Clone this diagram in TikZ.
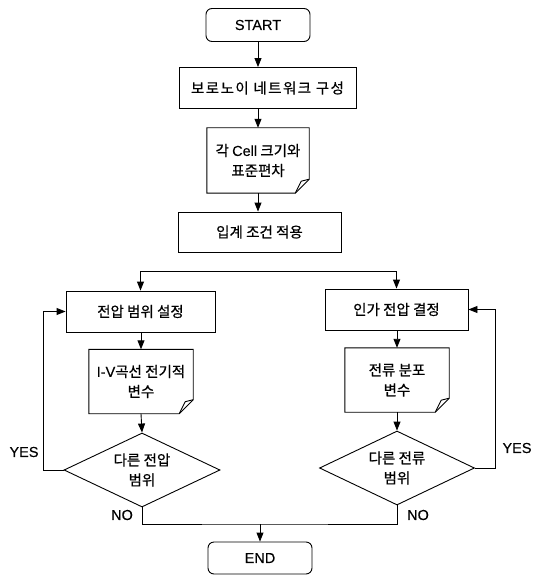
\documentclass[tikz,border=0pt]{standalone}
\usepackage{fontspec}
\setmainfont{Noto Sans CJK KR}[FakeBold=0.6]
\newfontfamily\latin{Liberation Sans}[FakeBold=0.3]
\usetikzlibrary{arrows.meta,shapes.geometric}

% folded-corner outline drawn round a named node
\newcommand{\docoutline}[1]{%
  \draw[line width=0.9pt] (#1.north west) -- (#1.north east)
    -- ([yshift=14pt]#1.south east) -- ([xshift=-14pt]#1.south east)
    -- (#1.south west) -- cycle;
  \draw[line width=0.9pt] ([yshift=14pt]#1.south east)
    -- ([xshift=-8pt,yshift=12pt]#1.south east) -- ([xshift=-14pt]#1.south east);
}

\tikzset{
  txt/.style={font=\fontsize{14.5}{20}\selectfont, align=center, inner sep=0pt},
  lat/.style={txt, font=\fontsize{14.5}{20}\selectfont\latin},
  base/.style={txt, draw, line width=0.9pt},
  term/.style={base, font=\fontsize{14.5}{20}\selectfont\latin, rounded corners=6pt, minimum width=104pt, minimum height=33pt},
  proc/.style={base, minimum height=41pt},
  docbox/.style={txt, minimum width=104pt, minimum height=64pt},
  decide/.style={base, diamond, aspect=2.1, minimum width=156pt, minimum height=74pt},
  arr/.style={line width=0.9pt, -{Triangle[length=9pt,width=7pt]}},
  line/.style={line width=0.9pt}
}

\begin{document}
\begin{tikzpicture}[x=1pt,y=-1pt]
\useasboundingbox (0,0) rectangle (532,577);

\node[term] (start) at (258,25) {START};
\node[proc, minimum width=177pt] (voronoi) at (267.5,88) {\addfontfeatures{LetterSpace=10}보로노이 네트워크 구성};
\node[docbox, minimum width=102pt, minimum height=65pt] (cellsize) at (258,160.5) {각 {\latin Cell} 크기와\\표준편차};
\docoutline{cellsize}
\node[proc, minimum width=163pt, minimum height=40pt] (boundary) at (259.5,232) {입계 조건 적용};
\coordinate (split) at ([yshift=-19pt]boundary.south);

\node[proc, minimum width=149pt] (vrange) at (140.5,311.5) {전압 범위 설정};
\node[proc, minimum width=143pt] (vappl) at (396.5,309.5) {인가 전압 결정};
\node[docbox] (ivcurve) at (141,381.5) {{\latin I-V}곡선 전기적\\변수};
\docoutline{ivcurve}
\node[docbox] (current) at (397,380) {전류 분포\\변수};
\docoutline{current}
\node[decide] (vcheck) at (142,470) {다른 전압\\범위};
\node[decide, minimum width=155pt] (ccheck) at (397,468) {다른 전류\\범위};
\coordinate (join) at (260,524);
\node[term, minimum height=32pt] (end) at (260,558) {END};

\node[lat] (yesl) at (24,452) {YES};
\node[lat] (yesr) at (517,448) {YES};
\node[lat] (nol) at (122,515) {NO};
\node[lat] (nor) at (418,515) {NO};

\draw[arr] (start.south) -- (start.south |- voronoi.north);
\draw[arr] (cellsize.north |- voronoi.south) -- (cellsize.north);
\draw[arr] (cellsize.south) -- (cellsize.south |- boundary.north);
\draw[arr] (split) -| (vrange.north);
\draw[arr] (split) -| (vappl.north);
\draw[arr] (ivcurve.north |- vrange.south) -- (ivcurve.north);
\draw[arr] (ivcurve.south) -- (vcheck.north);
\draw[arr] (current.north |- vappl.south) -- (current.north);
\draw[arr] (current.south) -- (ccheck.north);
\draw[arr] (vcheck.west) -- ++(-20,0) |- (vrange.west);
\draw[arr] (ccheck.east) -- ++(20,0) |- (vappl.east);
\draw[line] (vcheck.south) |- (join) -| (ccheck.south);
\draw[arr] (join) -- (end);
\end{tikzpicture}
\end{document}
